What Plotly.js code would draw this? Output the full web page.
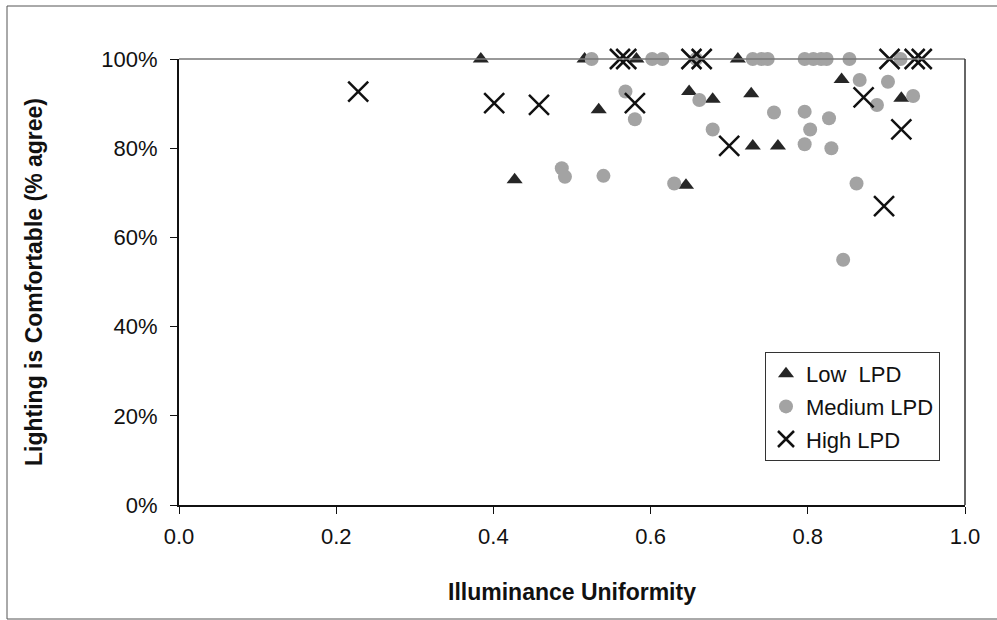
<!DOCTYPE html>
<html>
<head>
<meta charset="utf-8">
<script src="https://cdn.plot.ly/plotly-3.0.1.min.js"></script>
<style>
  html, body { margin: 0; padding: 0; background: #ffffff; }
  #chart { width: 997px; height: 620px; }
</style>
</head>
<body>
<div id="chart"></div>
<script>
// ---- data ----
const lowX  = [0.384, 0.516, 0.582, 0.711, 0.534, 0.427, 0.649, 0.679, 0.728, 0.843, 0.919, 0.730, 0.762, 0.645];
const lowY  = [100,   100,   100,   100,   88.6,  72.9,  92.7,  91.0,  92.2,  95.4,  91.2,  80.5,  80.5,  71.7];

const medX  = [0.525, 0.602, 0.615, 0.658, 0.730, 0.741, 0.749, 0.796, 0.807, 0.817, 0.824, 0.853, 0.918,
               0.568, 0.580, 0.487, 0.491, 0.540, 0.630, 0.662, 0.866, 0.902, 0.888, 0.934, 0.757, 0.796,
               0.827, 0.803, 0.679, 0.796, 0.830, 0.862, 0.845];
const medY  = [100,   100,   100,   100,   100,   100,   100,   100,   100,   100,   100,   100,   100,
               92.7,  86.5,  75.5,  73.6,  73.8,  72.1,  90.8,  95.3,  94.9,  89.7,  91.7,  88.0,  88.2,
               86.7,  84.2,  84.2,  80.9,  80.0,  72.1,  55.0];

const highX = [0.228, 0.401, 0.458, 0.580, 0.561, 0.569, 0.652, 0.665, 0.904, 0.936, 0.945, 0.700, 0.871, 0.919, 0.897];
const highY = [92.7,  90.1,  89.7,  90.1,  100,   100,   100,   100,   100,   100,   100,   80.5,  91.4,  84.2,  67.0];

const seriesNames = ["Low  LPD", "Medium LPD", "High LPD"];
const xTickVals = [0, 0.2, 0.4, 0.6, 0.8, 1.0];
const xTickText = ["0.0", "0.2", "0.4", "0.6", "0.8", "1.0"];
const yTickVals = [0, 20, 40, 60, 80, 100];
const yTickText = ["0%", "20%", "40%", "60%", "80%", "100%"];
const xTitle = "Illuminance Uniformity";
const yTitle = "Lighting is Comfortable (% agree)";

// ---- geometry ----
const W = 997, H = 620;
const M = { l: 179, r: 32, t: 59, b: 115 };
const pw = W - M.l - M.r, ph = H - M.t - M.b;
const px = v => (v - M.l) / pw;          // page px -> paper x
const py = v => (H - M.b - v) / ph;      // page px -> paper y

const FONT = "Liberation Sans, Arial, sans-serif";

const traces = [
  { type: "scatter", mode: "markers", name: seriesNames[0], x: lowX, y: lowY, legendgroup: "a",
    cliponaxis: false,
    marker: { symbol: "triangle-up", size: 14, color: "#262626", line: { width: 0 } } },
  { type: "scatter", mode: "markers", name: seriesNames[1], x: medX, y: medY, legendgroup: "b",
    cliponaxis: false,
    marker: { symbol: "circle", size: 14, color: "#a3a3a3", line: { width: 0 } } },
  { type: "scatter", mode: "markers", name: seriesNames[2], x: highX, y: highY, legendgroup: "c",
    cliponaxis: false,
    marker: { symbol: "x-thin-open", size: 20, color: "#111111", line: { width: 2.5, color: "#111111" } } }
];

const layout = {
  width: W, height: H,
  margin: M,
  paper_bgcolor: "#ffffff",
  plot_bgcolor: "#ffffff",
  showlegend: true,
  font: { family: FONT, size: 22, color: "#111111" },
  xaxis: {
    range: [0, 1], tickvals: xTickVals, ticktext: xTickText,
    showgrid: false, zeroline: false,
    showline: true, linecolor: "#111111", linewidth: 2,
    ticks: "outside", ticklen: 7, tickwidth: 1, tickcolor: "#111111",
    ticklabelstandoff: 4,
    tickfont: { family: FONT, size: 22, color: "#111111" },
    title: { text: xTitle, standoff: 35, font: { family: FONT, size: 23, color: "#111111", weight: "bold" } },
    fixedrange: true
  },
  yaxis: {
    range: [0, 100], tickvals: yTickVals, ticktext: yTickText,
    showgrid: false, zeroline: false,
    showline: true, linecolor: "#111111", linewidth: 2,
    ticks: "outside", ticklen: 7, tickwidth: 1, tickcolor: "#111111",
    ticklabelstandoff: 8,
    tickfont: { family: FONT, size: 22, color: "#111111" },
    title: { text: yTitle, standoff: 52, font: { family: FONT, size: 23, color: "#111111", weight: "bold" } },
    fixedrange: true
  },
  legend: {
    x: px(765), y: py(352), xanchor: "left", yanchor: "top",
    bgcolor: "#ffffff", bordercolor: "#333333", borderwidth: 1,
    font: { family: FONT, size: 22, color: "#111111" },
    traceorder: "grouped", tracegroupgap: 1,
    itemclick: false, itemdoubleclick: false
  },
  shapes: [
    // top and right borders of the plot area
    { type: "line", xref: "paper", yref: "paper", x0: 0, x1: 1, y0: 1, y1: 1,
      line: { color: "#777777", width: 1.5 } },
    { type: "line", xref: "paper", yref: "paper", x0: 1, x1: 1, y0: 0, y1: 1,
      line: { color: "#333333", width: 1.5 } },
    // outer frame around the chart
    { type: "rect", xref: "paper", yref: "paper", layer: "below",
      x0: px(7), x1: px(1002), y0: py(619), y1: py(6),
      line: { color: "#555555", width: 1 } }
  ]
};

Plotly.newPlot("chart", traces, layout, { displayModeBar: false, staticPlot: true });
</script>
</body>
</html>
